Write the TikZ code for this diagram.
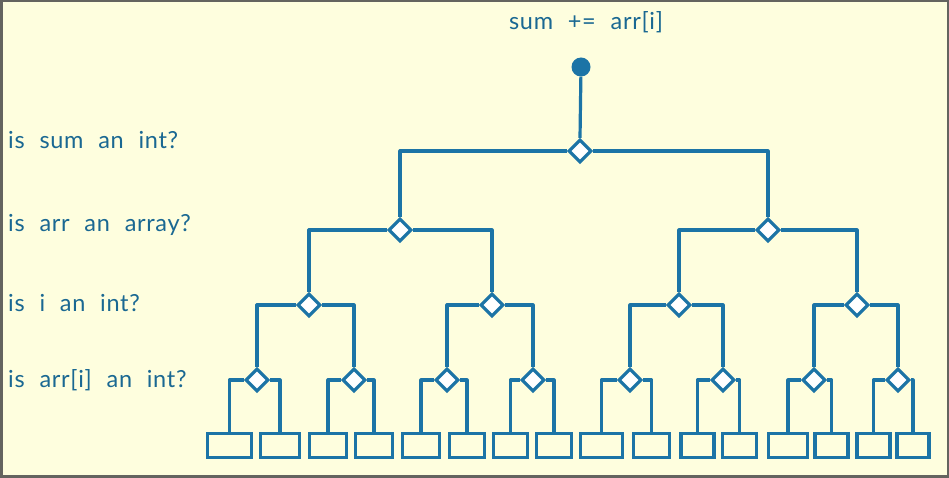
\documentclass[tikz,border=0pt]{standalone}
\usepackage{fontspec}
\setmainfont{Lato}[WordSpace=2.2,LetterSpace=3]
\usetikzlibrary{shapes.geometric}
\definecolor{bgc}{RGB}{254,254,222}
\definecolor{ln}{RGB}{28,116,166}
\definecolor{tx}{RGB}{26,104,146}
\definecolor{framec}{RGB}{100,100,95}
\begin{document}
\begin{tikzpicture}[x=1pt,y=-1pt,
 conn/.style={draw=ln, line width=3.2pt, line join=round},
 dia/.style={diamond, draw=ln, fill=white, line width=3.2pt, minimum size=23pt, inner sep=0pt},
 leaf/.style={rectangle, draw=ln, line width=3.2pt, minimum height=24pt, inner sep=0pt},
 lbl/.style={text=tx, font=\fontsize{23.5}{26}\selectfont, anchor=west, inner sep=0pt},
 dot/.style={circle, fill=ln, minimum size=19pt, inner sep=0pt}]
\fill[bgc] (0,0) rectangle (949,478);
\useasboundingbox (0,0) rectangle (949,478);
\draw[framec, line width=2pt] (1,1) -- (948,1);
\draw[framec, line width=3pt] (1.5,0) -- (1.5,478);
\draw[framec, line width=3pt] (0,476.5) -- (949,476.5);
\draw[framec, line width=1.5pt] (948.2,0) -- (948.2,478);

\node[lbl, anchor=center] (title) at (586,22) {sum += arr[i]};
\node[lbl] (q1) at (8,140) {is sum an int?};
\node[lbl] (q2) at (8,225) {is arr an array?};
\node[lbl] (q3) at (8,303) {is i an int?};
\node[lbl] (q4) at (8,380) {is arr[i] an int?};

\node[dot] (root) at (581,67) {};
\node[dia] (a) at (580,151) {};
\node[dia] (b1) at (400,230) {};
\node[dia] (b2) at (768,230) {};
\node[dia] (c1) at (309,305) {};
\node[dia] (c2) at (492,305) {};
\node[dia] (c3) at (679,305) {};
\node[dia] (c4) at (857,305) {};
\node[dia] (d1) at (257,380) {};
\node[dia] (d2) at (354,380) {};
\node[dia] (d3) at (447,380) {};
\node[dia] (d4) at (533,380) {};
\node[dia] (d5) at (630,380) {};
\node[dia] (d6) at (723,380) {};
\node[dia] (d7) at (814,380) {};
\node[dia] (d8) at (898,380) {};

\node[leaf, minimum width=44pt] (e1) at (229.5,445.5) {};
\node[leaf, minimum width=39pt] (e2) at (280,445.5) {};
\node[leaf, minimum width=37pt] (e3) at (328,445.5) {};
\node[leaf, minimum width=37pt] (e4) at (374,445.5) {};
\node[leaf, minimum width=37pt] (e5) at (421,445.5) {};
\node[leaf, minimum width=35pt] (e6) at (467,445.5) {};
\node[leaf, minimum width=34pt] (e7) at (510.5,445.5) {};
\node[leaf, minimum width=35pt] (e8) at (554,445.5) {};
\node[leaf, minimum width=42pt] (e9) at (601.5,445.5) {};
\node[leaf, minimum width=36pt] (e10) at (651.5,445.5) {};
\node[leaf, minimum width=33pt] (e11) at (697.5,445.5) {};
\node[leaf, minimum width=34pt] (e12) at (739.5,445.5) {};
\node[leaf, minimum width=39pt] (e13) at (788,445.5) {};
\node[leaf, minimum width=33pt] (e14) at (831.5,445.5) {};
\node[leaf, minimum width=33pt] (e15) at (873.5,445.5) {};
\node[leaf, minimum width=32pt] (e16) at (913,445.5) {};

\draw[conn] (root) -- (a.north);
\draw[conn] (a.west) -| (b1.north);
\draw[conn] (a.east) -| (b2.north);
\draw[conn] (b1.west) -| (c1.north);
\draw[conn] (b1.east) -| (c2.north);
\draw[conn] (b2.west) -| (c3.north);
\draw[conn] (b2.east) -| (c4.north);
\draw[conn] (c1.west) -| (d1.north);
\draw[conn] (c1.east) -| (d2.north);
\draw[conn] (c2.west) -| (d3.north);
\draw[conn] (c2.east) -| (d4.north);
\draw[conn] (c3.west) -| (d5.north);
\draw[conn] (c3.east) -| (d6.north);
\draw[conn] (c4.west) -| (d7.north);
\draw[conn] (c4.east) -| (d8.north);
\draw[conn] (d1.west) -| (e1.north);
\draw[conn] (d1.east) -| (e2.north);
\draw[conn] (d2.west) -| (e3.north);
\draw[conn] (d2.east) -| (e4.north);
\draw[conn] (d3.west) -| (e5.north);
\draw[conn] (d3.east) -| (e6.north);
\draw[conn] (d4.west) -| (e7.north);
\draw[conn] (d4.east) -| (e8.north);
\draw[conn] (d5.west) -| (e9.north);
\draw[conn] (d5.east) -| (e10.north);
\draw[conn] (d6.west) -| (e11.north);
\draw[conn] (d6.east) -| (e12.north);
\draw[conn] (d7.west) -| (e13.north);
\draw[conn] (d7.east) -| (e14.north);
\draw[conn] (d8.west) -| (e15.north);
\draw[conn] (d8.east) -| (e16.north);
\end{tikzpicture}
\end{document}
